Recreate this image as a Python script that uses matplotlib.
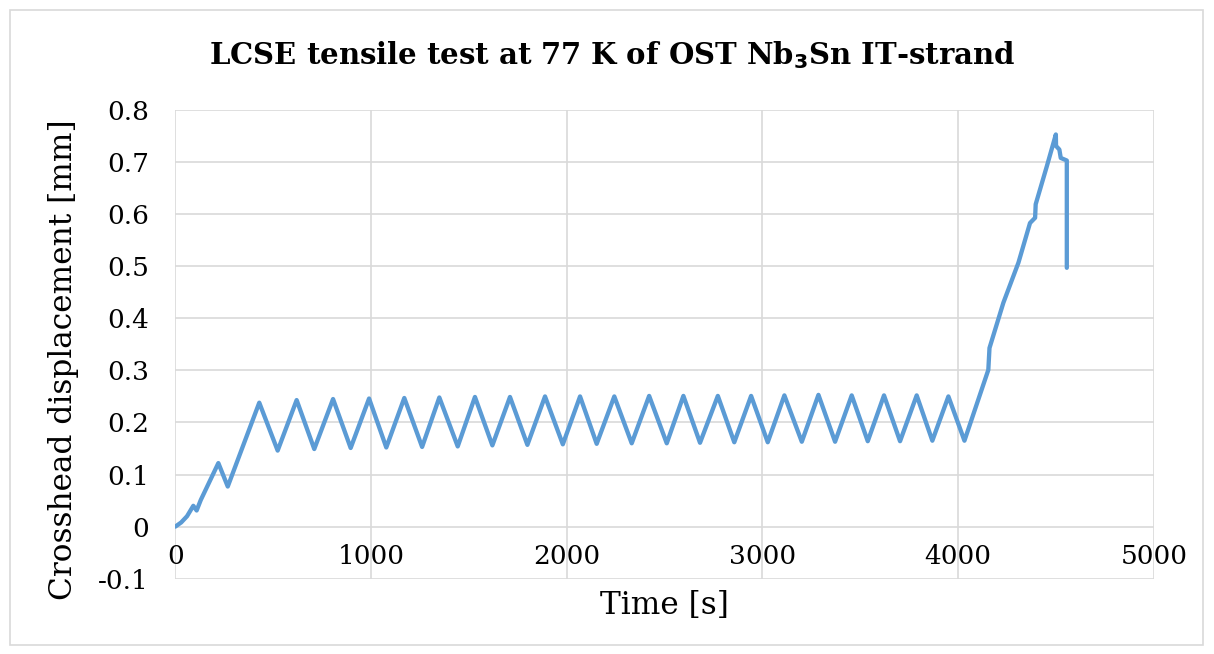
import matplotlib
matplotlib.use("Agg")
import matplotlib.pyplot as plt
from matplotlib.patches import Rectangle

# data
time_s = [0, 30, 60, 92, 109, 130, 220, 268, 429,
          523, 620, 710, 806, 896, 990, 1078, 1170, 1261, 1349,
          1443, 1531, 1620, 1710, 1799, 1889, 1980, 2068, 2153, 2243,
          2332, 2421, 2511, 2596, 2681, 2772, 2856, 2942, 3027, 3112,
          3201, 3286, 3371, 3456, 3538, 3621, 3703, 3788, 3868, 3950,
          4032, 4154, 4160, 4231, 4308, 4367, 4393, 4396, 4453, 4499,
          4500, 4517, 4524, 4555, 4555]
displacement_mm = [0, 0.008, 0.020, 0.040, 0.031, 0.051, 0.122, 0.077, 0.238,
                   0.146, 0.243, 0.149, 0.245, 0.151, 0.246, 0.152, 0.247, 0.153, 0.248,
                   0.154, 0.249, 0.156, 0.249, 0.157, 0.250, 0.158, 0.250, 0.159, 0.250,
                   0.160, 0.251, 0.160, 0.251, 0.161, 0.251, 0.162, 0.251, 0.162, 0.252,
                   0.163, 0.253, 0.163, 0.252, 0.164, 0.252, 0.164, 0.252, 0.165, 0.250,
                   0.165, 0.301, 0.343, 0.430, 0.507, 0.583, 0.593, 0.619, 0.692, 0.753,
                   0.731, 0.724, 0.708, 0.703, 0.497]

x_ticks = [0, 1000, 2000, 3000, 4000, 5000]
y_ticks = [-0.1, 0, 0.1, 0.2, 0.3, 0.4, 0.5, 0.6, 0.7, 0.8]
y_tick_labels = ["-0.1", "0", "0.1", "0.2", "0.3", "0.4", "0.5", "0.6", "0.7", "0.8"]

W, H = 1214, 654
fig = plt.figure(figsize=(W / 100, H / 100), dpi=100)
plt.rcParams['font.family'] = ['DejaVu Serif']

# outer chart border
fig.patches.append(Rectangle((10 / W, 1 - 645 / H), 1193 / W, 635 / H,
                             transform=fig.transFigure, fill=False,
                             edgecolor='#D9D9D9', linewidth=1.2))

ax = fig.add_axes([175.3 / W, 1 - 578.7 / H, 978.6 / W, 468.7 / H])
ax.plot(time_s, displacement_mm, color='#5B9BD5', linewidth=3.1,
        solid_joinstyle='round', solid_capstyle='round', zorder=3)

ax.set_xlim(0, 5000)
ax.set_ylim(-0.1, 0.8)
ax.set_xticks(x_ticks)
ax.set_yticks(y_ticks)
ax.set_yticklabels(y_tick_labels)
ax.grid(True, color='#D9D9D9', linewidth=1.2)
ax.set_axisbelow(True)
for s in ax.spines.values():
    s.set_visible(False)
ax.tick_params(axis='both', length=0, labelsize=19)
ax.tick_params(axis='y', pad=19)
ax.tick_params(axis='x', pad=-25)

fig.text(0.504, 1 - 55 / H, r"LCSE tensile test at 77 K of OST Nb$_\mathbf{3}$Sn IT-strand",
         ha='center', va='center', fontsize=21, fontweight='bold')
fig.text(664.5 / W, 1 - 606 / H, "Time [s]", ha='center', va='center', fontsize=22.5)
fig.text(64 / W, 1 - 360 / H, "Crosshead displacement [mm]", ha='center', va='center',
         rotation=90, fontsize=22.5)

fig.savefig("out.png", dpi=100)
